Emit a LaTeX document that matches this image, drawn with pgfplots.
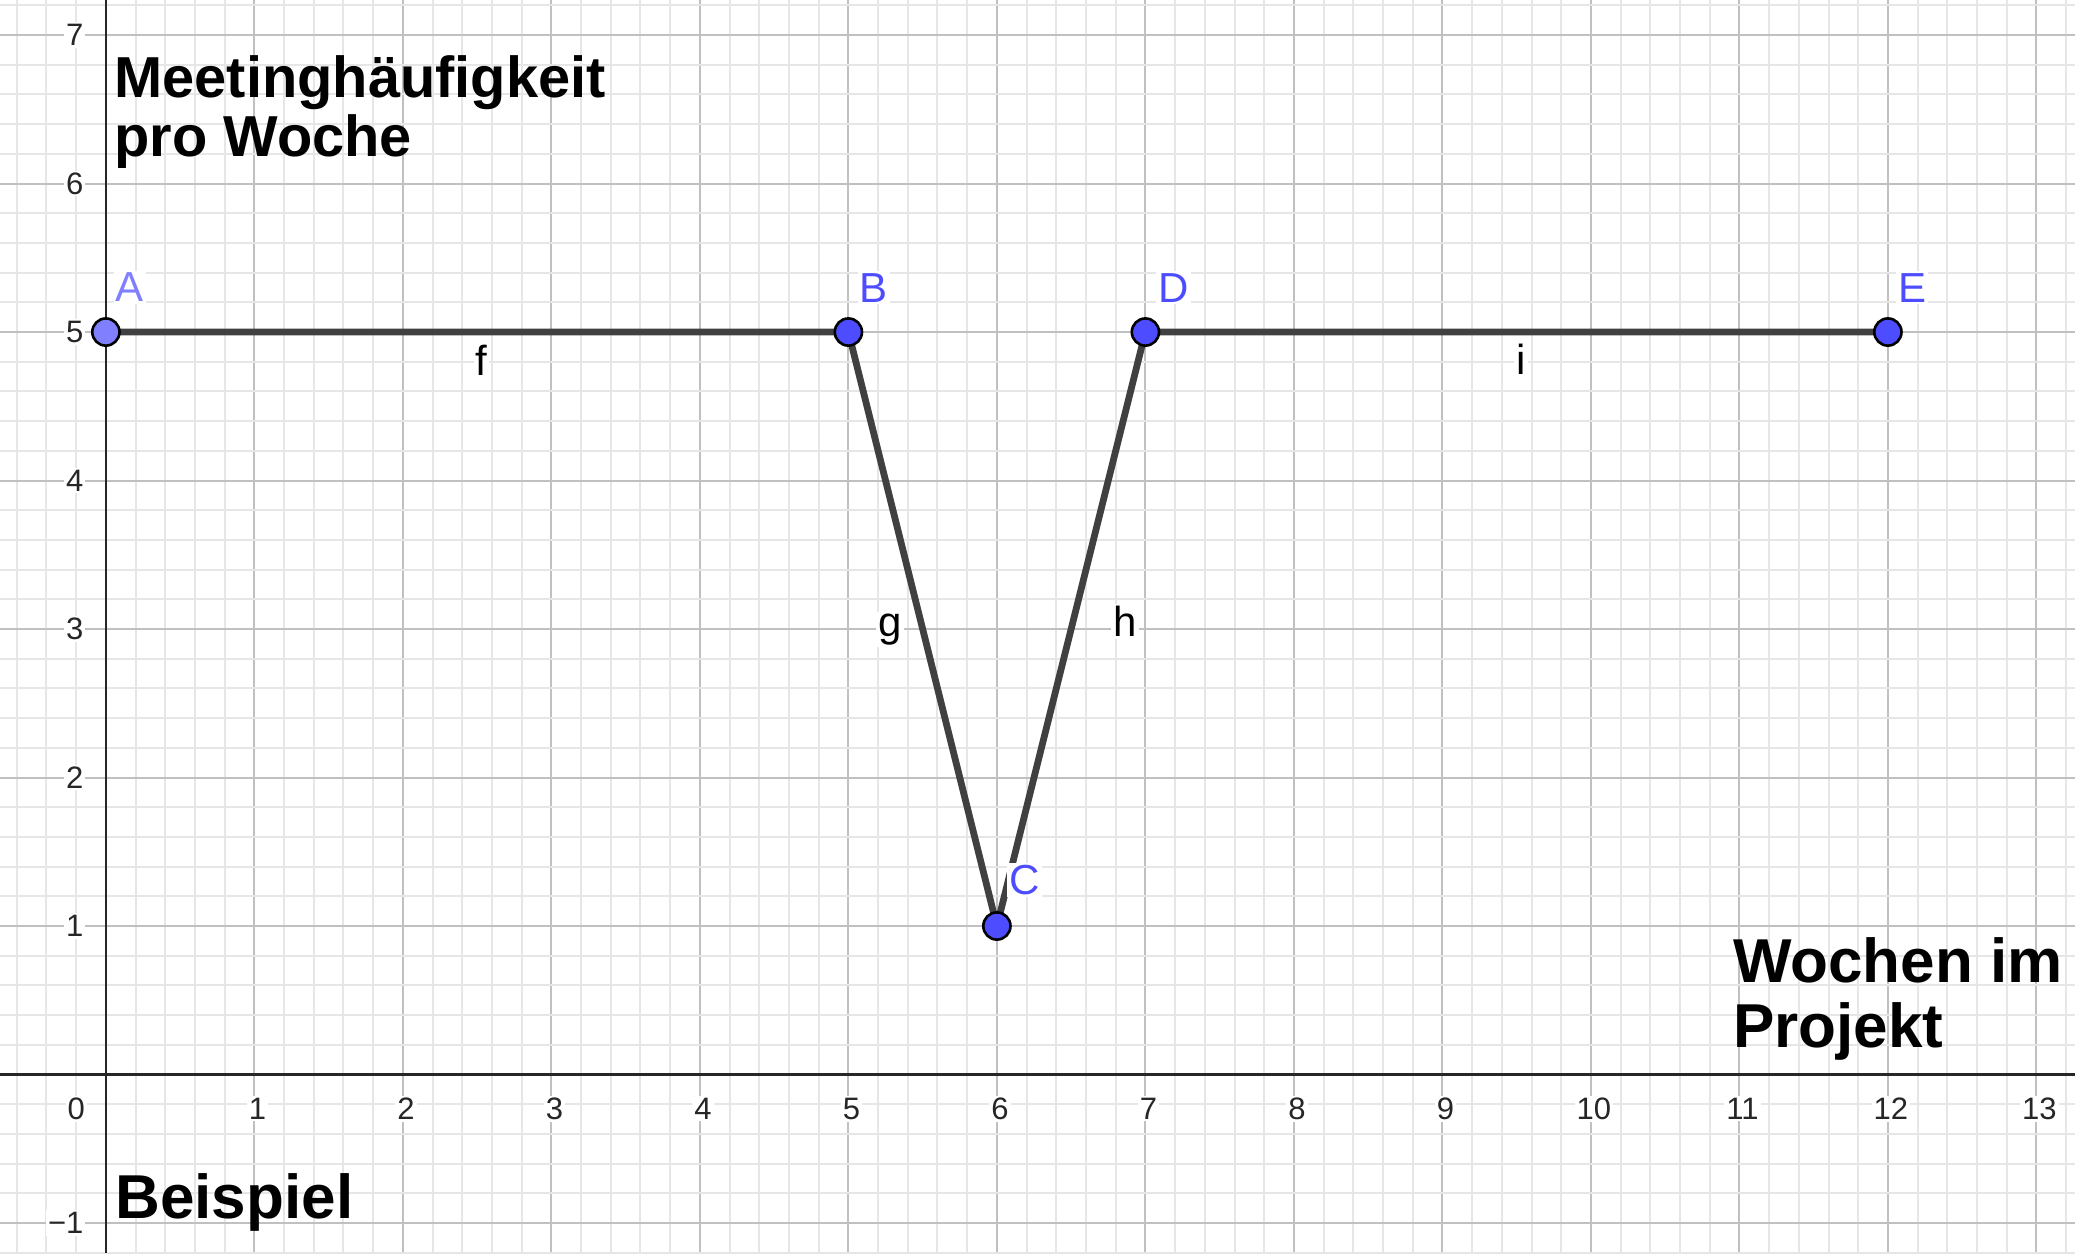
\documentclass[border=0pt]{standalone}
\usepackage{pgfplots}
\pgfplotsset{compat=1.18}
\usepackage{fontspec}
\setmainfont{Liberation Sans}
\definecolor{ptblue}{RGB}{77,77,255}
\definecolor{ptlight}{RGB}{128,128,255}
\definecolor{seg}{RGB}{64,64,64}
\definecolor{majgrid}{RGB}{192,192,192}
\definecolor{mingrid}{RGB}{230,230,230}
\newcommand{\tickfont}{\fontsize{15.5}{18}\selectfont}
\newcommand{\lblfont}{\fontsize{21}{25}\selectfont}
\newcommand{\bigA}{\bfseries\fontsize{28.9}{30}\selectfont}
\newcommand{\bigB}{\bfseries\fontsize{31}{32}\selectfont}
\begin{document}
\begin{tikzpicture}
\begin{axis}[
  scale only axis, width=1037.5pt, height=626.5pt,
  xmin=-0.713, xmax=13.26, ymin=-1.202, ymax=7.236,
  axis lines=middle,
  axis line style={-, line width=1.2pt, color=black!85},
  xtick={1,2,3,4,5,6,7,8,9,10,11,12,13},
  xticklabels={1,2,3,4,5,6,7,8,9,10,11,12,13},
  ytick={-1,1,2,3,4,5,6,7},
  yticklabels={−1,1,2,3,4,5,6,7},
  minor xtick={-0.6,-0.4,-0.2,0.2,0.4,0.6,0.8,1.2,1.4,1.6,1.8,2.2,2.4,2.6,2.8,3.2,3.4,3.6,3.8,4.2,4.4,4.6,4.8,5.2,5.4,5.6,5.8,6.2,6.4,6.6,6.8,7.2,7.4,7.6,7.8,8.2,8.4,8.6,8.8,9.2,9.4,9.6,9.8,10.2,10.4,10.6,10.8,11.2,11.4,11.6,11.8,12.2,12.4,12.6,12.8,13.2},
  minor ytick={-1.2,-0.8,-0.6,-0.4,-0.2,0.2,0.4,0.6,0.8,1.2,1.4,1.6,1.8,2.2,2.4,2.6,2.8,3.2,3.4,3.6,3.8,4.2,4.4,4.6,4.8,5.2,5.4,5.6,5.8,6.2,6.4,6.6,6.8,7.2},
  major tick length=0pt, minor tick length=0pt,
  grid=both,
  major grid style={majgrid, line width=1pt},
  minor grid style={mingrid, line width=1pt},
  ticklabel style={font=\tickfont, text=black!85, fill=white, inner sep=1pt},
  xticklabel style={anchor=north, yshift=-10.5pt, xshift=1.5pt},
  yticklabel style={anchor=east, xshift=-10pt},
  clip=false,
]
\addplot[seg, line width=3.4pt, line join=round, line cap=round, mark=none]
  coordinates {(0,5) (5,5) (6,1) (7,5) (12,5)};
\addplot[only marks, mark=*, mark size=6.8pt, mark options={fill=ptblue, draw=black, line width=1.3pt}]
  coordinates {(5,5) (6,1) (7,5) (12,5)};
\addplot[only marks, mark=*, mark size=6.8pt, mark options={fill=ptlight, draw=black, line width=1.3pt}]
  coordinates {(0,5)};
\node[anchor=north, yshift=-10.5pt, font=\tickfont, text=black!85, fill=white, inner sep=1pt] at (axis cs:-0.2,0) {0};
\node[anchor=base west, text=ptlight, font=\lblfont, fill=white, inner sep=1pt] at (axis cs:0.05,5.204) {A};
\node[anchor=base west, text=ptblue, font=\lblfont, fill=white, inner sep=1pt] at (axis cs:5.06,5.2) {B};
\node[anchor=base west, text=ptblue, font=\lblfont, fill=white, inner sep=1pt] at (axis cs:6.067,1.213) {C};
\node[anchor=base west, text=ptblue, font=\lblfont, fill=white, inner sep=1pt] at (axis cs:7.07,5.2) {D};
\node[anchor=base west, text=ptblue, font=\lblfont, fill=white, inner sep=1pt] at (axis cs:12.055,5.2) {E};
\node[anchor=base, font=\lblfont, fill=white, inner sep=1pt] at (axis cs:2.53,4.71) {f};
\node[anchor=base, font=\lblfont, fill=white, inner sep=1pt] at (axis cs:9.53,4.717) {i};
\node[anchor=base, font=\lblfont, fill=white, inner sep=1pt] at (axis cs:5.28,2.948) {g};
\node[anchor=base, font=\lblfont, fill=white, inner sep=1pt] at (axis cs:6.863,2.948) {h};
\node[anchor=base west, font=\bigA, inner sep=0pt] at (axis cs:0.055,6.578) {Meetinghäufigkeit};
\node[anchor=base west, font=\bigA, inner sep=0pt] at (axis cs:0.055,6.181) {pro Woche};
\node[anchor=base west, font=\bigB, inner sep=0pt] at (axis cs:10.955,0.618) {Wochen im};
\node[anchor=base west, font=\bigB, inner sep=0pt] at (axis cs:10.955,0.180) {Projekt};
\node[anchor=base west, font=\bigB, inner sep=0pt] at (axis cs:0.062,-0.968) {Beispiel};
\end{axis}
\pgfresetboundingbox
\useasboundingbox (current axis.south west) rectangle (current axis.north east);
\end{tikzpicture}
\end{document}
